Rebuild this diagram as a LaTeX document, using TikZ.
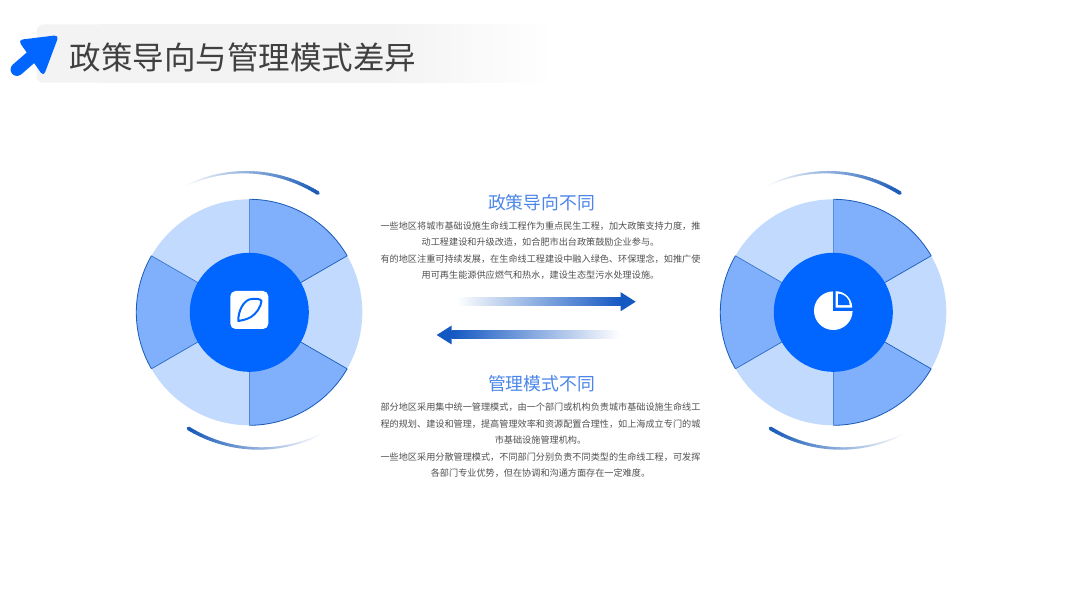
\documentclass[tikz,border=0pt]{standalone}
\usepackage{fontspec}
\usepackage{xcolor}
\newfontfamily\cjk{Noto Sans CJK SC}
\usetikzlibrary{positioning,calc}
\definecolor{hubblue}{HTML}{0066FF}
\definecolor{darkwedge}{HTML}{80B0FB}
\definecolor{lightwedge}{HTML}{C1DAFD}
\definecolor{edgeblue}{HTML}{1A5CB8}
\definecolor{arrowblue}{HTML}{1458C2}
\definecolor{headblue}{HTML}{4A86E8}
\definecolor{bandgray}{HTML}{F3F3F4}
\definecolor{bodygray}{HTML}{505050}
\tikzset{
  headtext/.style={font=\cjk\fontsize{15.2}{18}\selectfont, text=headblue, inner sep=0pt},
  bodytext/.style={font=\cjk\fontsize{7.8}{14.07}\selectfont, text=bodygray, align=center, inner sep=0pt},
  hub/.style={circle, fill=hubblue, minimum size=3.57cm, inner sep=0pt},
}
% arc that runs from a dark end to a faded end: cx, cy, r, dark angle, faded angle
\newcommand{\fadearc}[5]{%
  \foreach \i in {39,38,...,0} {
    \pgfmathsetmacro\angA{#4+(#5-#4)*\i/40}
    \pgfmathsetmacro\angB{#4+(#5-#4)*(\i+1)/40}
    \pgfmathsetmacro\mixval{100*(1-\i/40)}
    \pgfmathsetmacro\wid{1.1+2.1*(1-\i/40)}
    \draw[edgeblue!\mixval!white, line width=\wid pt, line cap=round]
      ({#1+#3*cos(\angA)},{#2+#3*sin(\angA)}) -- ({#1+#3*cos(\angB)},{#2+#3*sin(\angB)});
  }
}
\begin{document}
\begin{tikzpicture}[x=0.03cm, y=0.03cm]
\useasboundingbox (0,0) rectangle (1080,605);
% title band
\fill[bandgray, rounded corners=5] (37,522.3) rectangle (120,580.5);
\fill[bandgray] (100,522.3) rectangle (387,580.5);
\shade[left color=bandgray, right color=white] (387,522.3) rectangle (555,580.5);
% title arrow
\draw[hubblue, line width=11pt, line cap=round] (17,535.5) -- (36,552);
\fill[hubblue, rounded corners=4] (18,565) -- (59,570) -- (43.5,528.5) -- cycle;
\node[font=\cjk\fontsize{26.9}{30}\selectfont, text=black!75, inner sep=0pt] (title) at (243,547) {政策导向与管理模式差异};
% wheels
\foreach \cx/\hubname in {249.3/hubleft, 833.3/hubright} {
  \begin{scope}[shift={(\cx,292.7)}]
    \foreach \a in {-30,90,210} {
      \fill[lightwedge] (0,0) -- (\a:113) arc[start angle=\a, delta angle=60, radius=113] -- cycle;
    }
    \foreach \a/\mixa/\mixb in {30/100/40, 150/70/85, 270/50/100} {
      \fill[darkwedge] (0,0) -- (\a:113) arc[start angle=\a, delta angle=60, radius=113] -- cycle;
      \draw[edgeblue, line width=0.7pt] (\a:113) arc[start angle=\a, delta angle=60, radius=113];
      \draw[edgeblue!\mixa!darkwedge, line width=0.6pt] (0,0) -- (\a:113);
      \draw[edgeblue!\mixb!darkwedge, line width=0.6pt] (0,0) -- (\a+60:113);
    }
    \node[hub] (\hubname) at (0,0) {};
  \end{scope}
}
% icon on the left hub
\fill[white, rounded corners=4.5] (230.3,276) rectangle (268.3,314);
\draw[hubblue, line width=1.7pt, line join=round] (238.3,284)
  .. controls (238,294) and (244,306) .. (252,306)
  .. controls (256,306.5) and (261,306) .. (261.5,304)
  .. controls (261,298) and (256,291) .. (251,288)
  .. controls (247,285.5) and (241,284.5) .. cycle;
% icon on the right hub
\fill[white] (833.3,294.3) -- ++(0,19.3) arc[start angle=90, end angle=360, radius=19.3] -- cycle;
\fill[hubblue] (833.3,294.3) -- ++(0,22) -- ++(22,0) -- ++(0,-22) -- cycle;
\fill[white] (835.7,297.3) -- ++(0,16.5) arc[start angle=90, end angle=0, radius=16.5] -- cycle;
\fill[hubblue] (838.2,299.8) -- ++(0,11.5) arc[start angle=90, end angle=0, radius=11.5] -- cycle;
% arcs around the wheels
\fadearc{245}{295}{137.8}{58}{115}
\fadearc{260}{294}{137.5}{238.6}{296}
\fadearc{827}{295}{137.8}{58}{115}
\fadearc{842}{294}{137.5}{238.6}{296}
% middle texts
\node[headtext] (policyhead) at (541.5,402.7) {政策导向不同};
\node[bodytext] (policybody) at (540.5,354.5) {一些地区将城市基础设施生命线工程作为重点民生工程，加大政策支持力度，推\\
动工程建设和升级改造，如合肥市出台政策鼓励企业参与。\\
有的地区注重可持续发展，在生命线工程建设中融入绿色、环保理念，如推广使\\
用可再生能源供应燃气和热水，建设生态型污水处理设施。};
\node[headtext] (managehead) at (541.5,221) {管理模式不同};
\node[bodytext] (managebody) at (540.5,164.5) {部分地区采用集中统一管理模式，由一个部门或机构负责城市基础设施生命线工\\
程的规划、建设和管理，提高管理效率和资源配置合理性，如上海成立专门的城\\
市基础设施管理机构。\\
一些地区采用分散管理模式，不同部门分别负责不同类型的生命线工程，可发挥\\
各部门专业优势，但在协调和沟通方面存在一定难度。};
% block arrows
\shade[left color=white, right color=arrowblue] (456.7,299.3) rectangle (621,307.3);
\fill[arrowblue] (620.7,312.8) -- (635.7,303.3) -- (620.7,293.8) -- cycle;
\shade[left color=arrowblue, right color=white] (451.5,266) rectangle (620,274);
\fill[arrowblue] (451.7,279.5) -- (436.7,270) -- (451.7,260.5) -- cycle;
\end{tikzpicture}
\end{document}
